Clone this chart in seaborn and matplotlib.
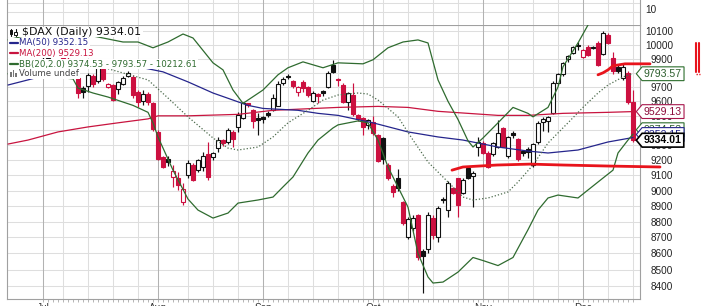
import numpy as np
import pandas as pd
import matplotlib
matplotlib.use("Agg")
import matplotlib.pyplot as plt
import seaborn as sns
from matplotlib.path import Path
from matplotlib.lines import Line2D
from matplotlib.patches import Rectangle
from matplotlib.ticker import NullLocator

# ---------------- data (trading-day index 0 = 1 Jul) ----------------
open_ = [9860, 9905, 9995, 10020, 9990, 9900, 9790, 9760, 9690, 9707,
         9775, 9740, 9830, 9700, 9714, 9686, 9722, 9779, 9771, 9665,
         9600, 9651, 9586, 9390, 9221, 9205, 9089, 9082, 8926, 9102,
         9168, 9134, 9155, 9241, 9221, 9281, 9338, 9322, 9390, 9424,
         9486, 9586, 9538, 9485, 9490, 9520, 9538, 9570, 9729, 9775,
         9740, 9665, 9736, 9700, 9603, 9650, 9672, 9700, 9857, 9757,
         9714, 9595, 9644, 9503, 9486, 9438, 9459, 9369, 9349, 9168,
         9030, 9082, 8926, 8705, 8762, 8842, 8618, 8625, 8823, 8700,
         8945, 8874, 9017, 9082, 8984, 9148, 9095, 9288, 9315, 9248,
         9241, 9288, 9417, 9228, 9380, 9342, 9261, 9274, 9168, 9322,
         9459, 9465, 9517, 9729, 9793, 9900, 9943, 10000, 9914, 9986,
         9985, 10014, 9936, 10072, 9907, 9843, 9764, 9800, 9593]
high_ = [9915, 10000, 10050, 10040, 10000, 9910, 9830, 9770, 9705, 9800,
         9790, 9865, 9850, 9725, 9720, 9745, 9775, 9814, 9785, 9679,
         9679, 9665, 9595, 9400, 9230, 9230, 9168, 9120, 9050, 9201,
         9180, 9210, 9254, 9322, 9255, 9356, 9345, 9415, 9400, 9524,
         9593, 9590, 9545, 9517, 9500, 9530, 9650, 9740, 9770, 9790,
         9750, 9710, 9750, 9710, 9672, 9655, 9680, 9810, 9893, 9765,
         9725, 9665, 9725, 9515, 9490, 9480, 9500, 9375, 9355, 9180,
         9040, 9141, 8935, 8830, 8840, 8850, 8630, 8860, 8840, 8900,
         8960, 9060, 9025, 9085, 9080, 9160, 9130, 9356, 9330, 9260,
         9320, 9472, 9425, 9365, 9395, 9350, 9270, 9285, 9315, 9465,
         9495, 9500, 9745, 9800, 9880, 9930, 9990, 10020, 9970, 10000,
         9995, 10030, 10100, 10085, 9950, 9860, 9864, 9815, 9679]
low_ = [9840, 9900, 9980, 9990, 9890, 9780, 9775, 9620, 9620, 9665,
        9700, 9725, 9740, 9695, 9600, 9651, 9715, 9770, 9620, 9558,
        9572, 9572, 9395, 9201, 9145, 9160, 9024, 9004, 8906, 9082,
        9060, 9125, 9128, 9069, 9200, 9254, 9295, 9310, 9288, 9390,
        9480, 9560, 9417, 9369, 9450, 9495, 9530, 9580, 9715, 9755,
        9690, 9640, 9665, 9630, 9595, 9586, 9640, 9690, 9800, 9707,
        9590, 9538, 9500, 9465, 9369, 9410, 9369, 9188, 9175, 9069,
        8958, 9000, 8780, 8690, 8740, 8560, 8360, 8600, 8690, 8670,
        8920, 8830, 8980, 8830, 8975, 9075, 8893, 9225, 9240, 9150,
        9230, 9280, 9285, 9215, 9350, 9195, 9230, 9215, 9155, 9310,
        9395, 9390, 9510, 9715, 9780, 9880, 9935, 9960, 9905, 9920,
        9970, 9845, 9930, 10005, 9790, 9800, 9750, 9585, 9320]
close_ = [9902, 9990, 10029, 10009, 9906, 9790, 9808, 9659, 9666, 9786,
          9719, 9840, 9753, 9720, 9612, 9736, 9764, 9800, 9644, 9593,
          9653, 9593, 9407, 9210, 9155, 9189, 9130, 9039, 9009, 9180,
          9069, 9199, 9225, 9092, 9245, 9334, 9314, 9403, 9339, 9503,
          9586, 9572, 9462, 9470, 9478, 9507, 9626, 9724, 9757, 9768,
          9707, 9700, 9690, 9644, 9658, 9636, 9661, 9800, 9807, 9750,
          9595, 9658, 9510, 9480, 9424, 9474, 9382, 9195, 9209, 9082,
          8991, 9019, 8793, 8817, 8823, 8575, 8582, 8842, 8718, 8887,
          8939, 9050, 8984, 8906, 9069, 9082, 9115, 9322, 9248, 9155,
          9315, 9383, 9288, 9356, 9369, 9208, 9248, 9252, 9308, 9452,
          9479, 9493, 9729, 9793, 9871, 9921, 9986, 9990, 9965, 9929,
          9975, 9857, 10086, 10014, 9810, 9812, 9843, 9593, 9334]

ma50_day = [-7, -3, 3, 9, 15, 20, 24, 29, 34, 38, 41, 44, 51, 55, 59, 66, 73,
            79, 84, 91, 97, 101, 107, 113, 118]
ma50_val = [9714, 9750, 9807, 9843, 9850, 9836, 9807, 9736, 9658, 9609, 9572,
            9551, 9538, 9517, 9503, 9452, 9390, 9356, 9335, 9288, 9261, 9248,
            9268, 9322, 9352.15]
ma200_day = [-7, -3, 3, 9, 15, 21, 23, 29, 39, 46, 59, 67, 73, 79, 91, 97, 104,
             113, 118]
ma200_val = [9308, 9335, 9390, 9424, 9452, 9479, 9500, 9500, 9510, 9538, 9558,
             9565, 9558, 9531, 9503, 9503, 9517, 9524, 9529.13]
bbu_day = [-7, -3, 3, 7, 12, 16, 19, 22, 25, 28, 30, 34, 36, 38, 40, 44, 47, 49,
           52, 56, 59, 64, 66, 69, 72, 75, 77, 79, 81, 83, 85, 86, 88, 91, 94,
           97, 98, 101, 103, 104, 107, 109, 112, 115, 118]
bbu_val = [10036, 10072, 10107, 10086, 10050, 10021, 10021, 9979, 10021, 10079,
           10050, 9871, 9821, 9679, 9586, 9679, 9786, 9836, 9878, 9836, 9871,
           9864, 9893, 9979, 10021, 10036, 10014, 9750, 9600, 9475, 9330, 9288,
           9349, 9452, 9558, 9517, 9493, 9558, 9700, 9843, 10014, 10145, 10260,
           10290, 10212.61]
bbm_day = [-7, 0, 7, 13, 18, 21, 25, 29, 34, 37, 39, 43, 46, 49, 53, 56, 59, 63,
           65, 67, 71, 74, 77, 81, 84, 86, 89, 93, 95, 98, 101, 105, 108, 111,
           113, 116, 118]
bbm_val = [9878, 9893, 9871, 9829, 9779, 9750, 9623, 9493, 9349, 9281, 9268,
           9288, 9356, 9452, 9538, 9609, 9644, 9658, 9651, 9609, 9493, 9335,
           9188, 9056, 8958, 8939, 8952, 8991, 9056, 9168, 9315, 9452, 9558,
           9658, 9714, 9771, 9793.57]
bbl_day = [-7, 0, 6, 7, 10, 13, 18, 21, 22, 23, 26, 29, 31, 34, 37, 39, 43, 46,
           48, 50, 53, 55, 58, 59, 63, 65, 67, 69, 73, 75, 77, 78, 80, 83, 86,
           88, 91, 94, 97, 99, 101, 103, 107, 109, 112, 114, 115, 117, 118]
bbl_val = [9793, 9779, 9757, 9693, 9658, 9630, 9572, 9524, 9452, 9356, 9134,
           8945, 8874, 8823, 8855, 8919, 8939, 8958, 9024, 9089, 9248, 9335,
           9417, 9438, 9465, 9452, 9335, 9155, 8893, 8600, 8455, 8418, 8424,
           8485, 8575, 8556, 8525, 8575, 8749, 8874, 8952, 8971, 8952, 9004,
           9082, 9134, 9248, 9335, 9374.53]

# hand-drawn annotations
support_day = [81.8, 84, 90.8, 97.4, 104, 113.4, 123.4]
support_val = [9134, 9155, 9168, 9174, 9168, 9161, 9155]
resist_day = [111, 112, 113, 114, 116.4, 121.4]
resist_val = [9786, 9800, 9821, 9850, 9864, 9864]

price_ticks = list(range(8400, 10101, 100))
week_days = [4, 9, 14, 19, 29, 34, 39, 49, 54, 59, 64, 68, 73, 78, 83, 93, 98,
             103, 113, 118]
month_days = [0, 23, 44, 66, 88, 108]
month_names = ["Jul", "Aug", "Sep", "Oct", "Nov", "Dec"]

legend_rows = ["$DAX (Daily) 9334.01", "MA(50) 9352.15", "MA(200) 9529.13",
               "BB(20,2.0) 9374.53 - 9793.57 - 10212.61", "Volume undef"]
tags = [("9374.53", 9374.53), ("9352.15", 9352.15), ("9334.01", 9334.01)]

# ---------------- style ----------------
sns.set_style("white")
plt.rcParams["font.family"] = ["DejaVu Sans"]

RED = "#cc1040"
BLACK = "#111111"
NAVY = "#25258c"
MA200C = "#c8143f"
GREEN = "#2f6b2f"
MIDC = "#4d6b4d"
ANNO = "#e8141c"
GRID = "#dedede"
MGRID = "#b2b2b2"
FRAME = "#a0a0a0"

W, H = 701, 306
fig = plt.figure(figsize=(W / 100, H / 100), dpi=100)


def fx(p):
    return p / W


def fy(p):
    return 1 - p / H


L_, R_, T_, B_ = 7, 640, 25, 299
ax = fig.add_axes([fx(L_), fy(B_), (R_ - L_) / W, (B_ - T_) / H])
ax.set_yscale("log")
XMIN, XMAX = -7.2, 119.4
ax.set_xlim(XMIN, XMAX)
ax.set_ylim(8321.4, 10144.9)

for p in price_ticks:
    ax.axhline(p, color=GRID, lw=0.75, zorder=0)
for d in week_days:
    ax.axvline(d, color=GRID, lw=0.75, zorder=0)
for d in month_days:
    ax.axvline(d, color=MGRID, lw=0.75, zorder=0)

# candlesticks
day = np.arange(len(close_))
prev = None
for d, o, h, l, c in zip(day, open_, high_, low_, close_):
    col = RED if (prev is not None and c < prev) else BLACK
    fill = col if c < o else "white"
    ax.vlines(d, l, h, color=col, lw=0.85, zorder=2)
    lo, hi = min(o, c), max(o, c)
    if hi - lo < 3:
        hi = lo + 3
    ax.bar(d, hi - lo, bottom=lo, width=0.74, color=fill, edgecolor=col,
           linewidth=0.8, zorder=2.5)
    prev = c

# overlays
sns.lineplot(x=ma200_day, y=ma200_val, ax=ax, color=MA200C, lw=0.9, zorder=3)
sns.lineplot(x=ma50_day, y=ma50_val, ax=ax, color=NAVY, lw=0.9, zorder=3)
sns.lineplot(x=bbu_day, y=bbu_val, ax=ax, color=GREEN, lw=0.9, zorder=3)
sns.lineplot(x=bbl_day, y=bbl_val, ax=ax, color=GREEN, lw=0.9, zorder=3)
sns.lineplot(x=bbm_day, y=bbm_val, ax=ax, color=MIDC, lw=0.9,
             linestyle=(0, (1, 1.6)), zorder=3)
sns.lineplot(x=support_day, y=support_val, ax=ax, color=ANNO, lw=2.0,
             zorder=4, clip_on=False)
sns.lineplot(x=resist_day, y=resist_val, ax=ax, color=ANNO, lw=2.0,
             zorder=4, clip_on=False)
ax.set_xlabel("")
ax.set_ylabel("")

# axes cosmetics
ax.yaxis.tick_right()
ax.yaxis.set_minor_locator(NullLocator())
ax.set_yticks(price_ticks, labels=[str(p) for p in price_ticks])
ax.tick_params(axis="y", which="major", length=0, pad=23.8, labelsize=7.2,
               labelcolor="#222222")
for t in ax.get_yticklabels():
    t.set_ha("right")
    t.set_fontfamily("Liberation Sans")
ax.set_xticks([])
ax.set_xticks(day, minor=True)
ax.tick_params(axis="x", which="minor", length=2, width=0.6, color="#aaaaaa",
               bottom=True, direction="out")
for s in ax.spines.values():
    s.set_color(FRAME)
    s.set_linewidth(0.8)

# top (cut-off) indicator panel
axt = fig.add_axes([fx(L_), fy(T_), (R_ - L_) / W, (T_ + 3) / H])
axt.set_xlim(XMIN, XMAX)
axt.set_ylim(T_, -3)
for yy in (3, 12):
    axt.axhline(yy, color=GRID, lw=0.75, zorder=0)
for d in week_days:
    axt.axvline(d, color=GRID, lw=0.75, zorder=0)
for d in month_days:
    axt.axvline(d, color=MGRID, lw=0.75, zorder=0)
axt.set_xticks([])
axt.set_yticks([])
for k, s in axt.spines.items():
    s.set_color(FRAME)
    s.set_linewidth(0.8)
    if k in ("top", "bottom"):
        s.set_visible(False)
fig.text(fx(645), fy(10), "10", ha="left", va="center", fontsize=7.2,
         family="Liberation Sans", color="#222222")

# month labels (mostly cut off by the bottom edge, as in the source)
for d, name in zip(month_days, month_names):
    xp = L_ + (d - XMIN) / (XMAX - XMIN) * (R_ - L_)
    fig.text(fx(xp), fy(302.8), name, ha="center", va="top", fontsize=7.2,
             family="Liberation Sans", color="#333333")

# legend rows with white backgrounds
row_y = [32, 43, 53, 64, 74]
row_x = [22, 19, 19, 19, 19]
row_fs = [7.9, 6.2, 6.2, 6.2, 6.2]
row_c = [BLACK, NAVY, MA200C, GREEN, "#444444"]
renderer = fig.canvas.get_renderer()
for txt, yy, xx, cc, fs in zip(legend_rows, row_y, row_x, row_c, row_fs):
    t = fig.text(fx(xx), fy(yy), txt, ha="left", va="center", fontsize=fs,
                 color=cc, zorder=5)
    bb = t.get_window_extent(renderer)
    fig.add_artist(Rectangle((fx(8), fy(yy + 5.4)), fx(bb.x1 + 1.5 - 8),
                             10.8 / H, transform=fig.transFigure,
                             facecolor="white", edgecolor="none", zorder=4))
# legend icons
for x0, yb, yt, b0, b1, filled in [(11, 35.5, 28.5, 34, 30, True),
                                   (15.5, 36, 29, 35, 31.5, False)]:
    fig.add_artist(Line2D([fx(x0)] * 2, [fy(yb), fy(yt)], color=BLACK,
                          lw=0.8, zorder=6))
    fig.add_artist(Rectangle((fx(x0 - 1.3), fy(b0)), 2.6 / W, (b0 - b1) / H,
                             transform=fig.transFigure,
                             facecolor=BLACK if filled else "white",
                             edgecolor=BLACK, lw=0.7, zorder=7))
for yy, cc in zip(row_y[1:4], row_c[1:4]):
    fig.add_artist(Line2D([fx(10), fx(18)], [fy(yy), fy(yy)], color=cc,
                          lw=1.6, zorder=6))
for x0, hgt in [(10, 5), (12.5, 7), (15, 4)]:
    fig.add_artist(Rectangle((fx(x0), fy(77)), 1.8 / W, hgt / H,
                             transform=fig.transFigure, facecolor="#777777",
                             edgecolor="none", zorder=6))


# value tags on the right
def tag_style(x0, y0, width, height, mutation_size):
    pad = 0.18 * mutation_size
    x0 -= pad
    y0 -= pad
    width += 2 * pad
    height += 2 * pad
    tip = height * 0.42
    verts = [(x0 - tip, y0 + height / 2), (x0, y0), (x0 + width, y0),
             (x0 + width, y0 + height), (x0, y0 + height),
             (x0 - tip, y0 + height / 2)]
    codes = [Path.MOVETO] + [Path.LINETO] * 4 + [Path.CLOSEPOLY]
    return Path(verts, codes)


def ypix(price):
    lo, hi = np.log(8321.4), np.log(10144.9)
    return B_ - (np.log(price) - lo) / (hi - lo) * (B_ - T_)


tag_specs = [
    ("9793.57", ypix(9793.57), "#2d5e2d", "#2d6e2d", "normal", 0.8, 8),
    ("9529.13", ypix(9529.13), "#8b0a3a", "#a8164c", "normal", 0.8, 8),
    (tags[0][0], ypix(tags[0][1]) - 4.5, "#2d5e2d", "#2d6e2d", "normal", 0.8, 8),
    (tags[1][0], ypix(tags[1][1]) - 3.0, NAVY, NAVY, "normal", 0.8, 9),
    (tags[2][0], ypix(tags[2][1]), "black", "black", "bold", 1.2, 10),
]
for txt, yy, tc, ec, wt, lw, z in tag_specs:
    fig.text(fx(644), fy(yy), txt, ha="left", va="center", fontsize=7.6,
             family="Liberation Sans", weight=wt, color=tc, zorder=z,
             bbox=dict(boxstyle=tag_style, facecolor="white", edgecolor=ec,
                       linewidth=lw))

# stray marks at right edge
for xx in (695.5, 699.0):
    fig.add_artist(Line2D([fx(xx)] * 2, [fy(43), fy(72)], color=ANNO, lw=1.5,
                          zorder=6))
fig.add_artist(Line2D([fx(696), fx(700)], [fy(74), fy(74)], color=ANNO,
                      lw=1.0, ls=(0, (1, 1)), zorder=6))

fig.savefig("out.png", dpi=100)
